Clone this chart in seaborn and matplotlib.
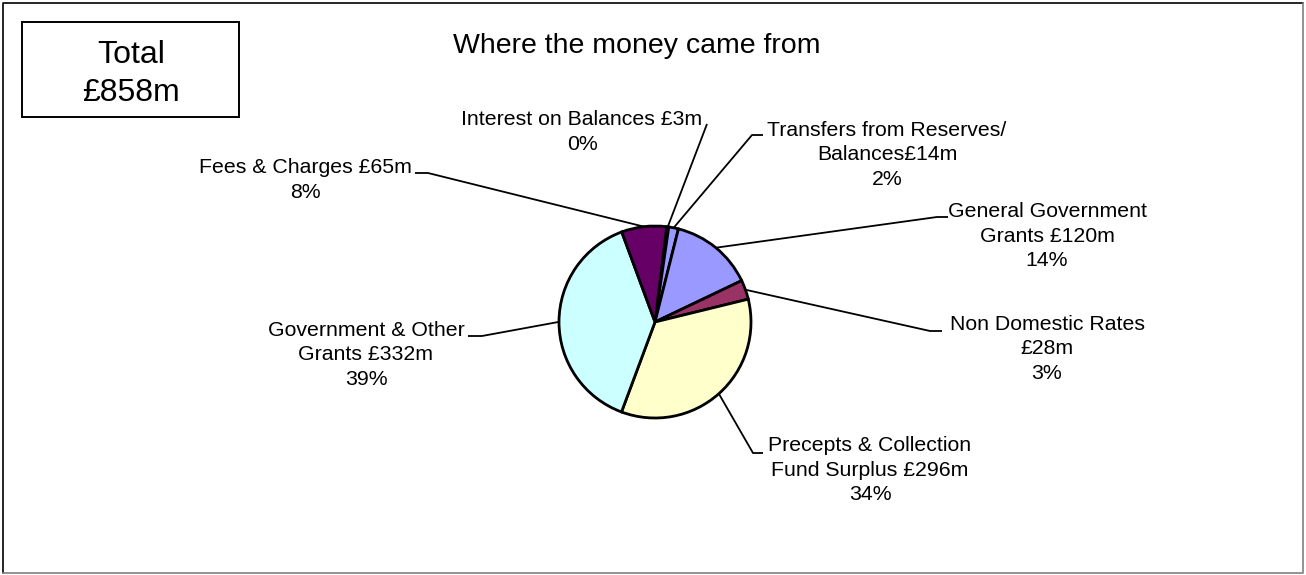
import numpy as np
import matplotlib
matplotlib.use("Agg")
import matplotlib.pyplot as plt
import seaborn as sns

# ---- data -------------------------------------------------------------
sources = [
    "Interest on Balances £3m",
    "Transfers from Reserves/\nBalances£14m",
    "General Government\nGrants £120m",
    "Non Domestic Rates\n£28m",
    "Precepts & Collection\nFund Surplus £296m",
    "Government & Other\nGrants £332m",
    "Fees & Charges £65m",
]
amounts = [3, 14, 120, 28, 296, 332, 65]          # £m
percent_labels = ["0%", "2%", "14%", "3%", "34%", "39%", "8%"]
slice_colors = ["#1a1a4d", "#9999FF", "#9999FF", "#993366",
                "#FFFFCC", "#CCFFFF", "#660066"]
title = "Where the money came from"
total_label = "Total\n£858m"

# ---- layout (pixel coordinates, origin top-left) ------------------------
W, H = 1306, 575
pie_center_px = (655, 322)
pie_radius = 96
# label block centres and leader-line elbows (text side first)
label_pos = [
    (582, 132), (887, 155), (1047, 236), (1047, 349),
    (870, 470), (366, 355), (305, 180),
]
leader_elbows = [
    [(707, 124)],
    [(763, 135), (752, 135)],
    [(948, 217), (937, 217)],
    [(942, 331), (930, 331)],
    [(763, 453), (753, 453)],
    [(468, 336), (482, 336)],
    [(415, 173), (428, 173)],
]

sns.set_theme(style="white")
plt.rcParams["font.family"] = ["Liberation Sans", "DejaVu Sans"]


def Y(py):
    return H - py


fig = plt.figure(figsize=(W / 100, H / 100), dpi=100)
fig.patch.set_facecolor("white")
ax = fig.add_axes([0, 0, 1, 1])

cx, cy = pie_center_px[0], Y(pie_center_px[1])
wedges, _ = ax.pie(
    amounts,
    colors=slice_colors,
    startangle=83,
    counterclock=False,
    center=(cx, cy),
    radius=pie_radius,
    wedgeprops=dict(edgecolor="black", linewidth=2.0),
)

ax.set_xlim(0, W)
ax.set_ylim(0, H)
ax.set_aspect("equal")
ax.axis("off")

label_fs = 15.3
for w, name, pct, (tx, ty), elbows in zip(wedges, sources, percent_labels,
                                         label_pos, leader_elbows):
    mid = np.deg2rad((w.theta1 + w.theta2) / 2)
    wx = cx + pie_radius * np.cos(mid)
    wy = cy + pie_radius * np.sin(mid)
    xs = [p[0] for p in elbows] + [wx]
    ys = [Y(p[1]) for p in elbows] + [wy]
    ax.plot(xs, ys, color="black", lw=1.3, solid_capstyle="butt", zorder=1)
    ax.text(tx, Y(ty), f"{name}\n{pct}", ha="center", va="center",
            multialignment="center", fontsize=label_fs, linespacing=1.38,
            color="black")

# chart title
ax.text(637, Y(46), title, ha="center", va="center", fontsize=20.5,
        color="black")

# total box
ax.add_patch(plt.Rectangle((22, Y(117)), 217, 95, fill=False,
                           edgecolor="black", lw=1.4))
ax.text(131, Y(74), total_label, ha="center", va="center", fontsize=23,
        linespacing=1.33, multialignment="center", color="black")

# outer frame
ax.plot([3, 3, 1303], [Y(573), Y(3), Y(3)], color="black", lw=1.2)
ax.plot([3, 1303, 1303], [Y(573), Y(573), Y(3)], color="#808080", lw=1.2)

fig.savefig("out.png", dpi=100, facecolor="white")
